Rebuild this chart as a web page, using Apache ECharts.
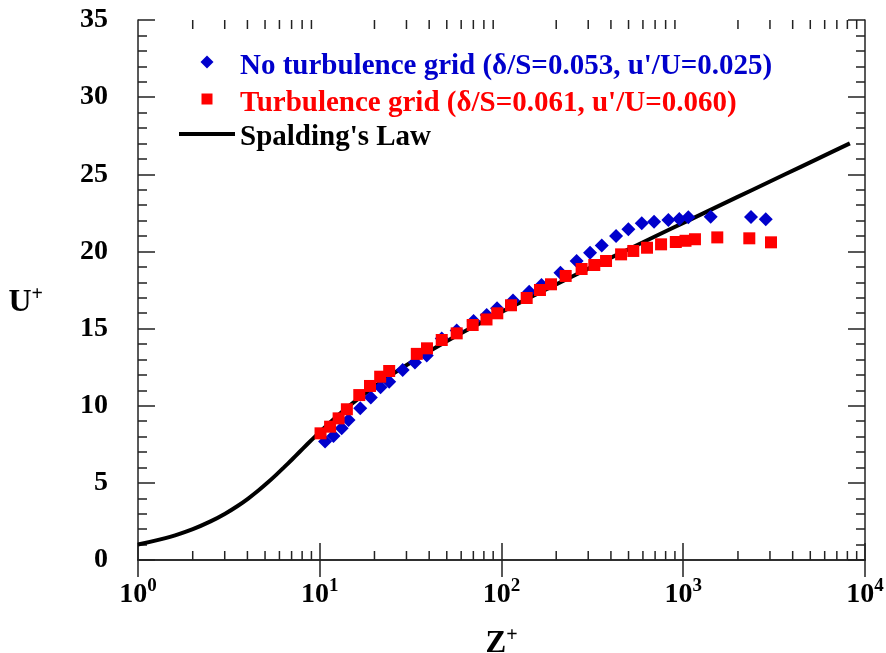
<!DOCTYPE html>
<html>
<head>
<meta charset="utf-8">
<script src="https://cdn.jsdelivr.net/npm/echarts@6/dist/echarts.min.js"></script>
<style>
  html, body { margin: 0; padding: 0; background: #fff; }
  #chart { width: 886px; height: 653px; }
</style>
</head>
<body>
<div id="chart"></div>
<script>
// Mean velocity profiles in wall units
const blueName = "No turbulence grid (\u03b4/S=0.053, u'/U=0.025)";
const redName = "Turbulence grid (\u03b4/S=0.061, u'/U=0.060)";
const lawName = "Spalding's Law";

const blueZ = [10.7, 11.9, 13.2, 14.4, 16.7, 19.1, 21.6, 24.1, 28.6, 33.4, 38.8, 46.9, 56.7, 70.2, 82.9, 94.5, 115.7, 142, 166, 211, 259, 307, 356, 427, 499, 591, 691, 828, 951, 1066, 1416, 2360, 2843];
const blueU = [7.68, 8.04, 8.54, 9.07, 9.83, 10.54, 11.19, 11.56, 12.31, 12.80, 13.25, 14.36, 14.87, 15.49, 15.88, 16.31, 16.82, 17.39, 17.82, 18.62, 19.38, 19.92, 20.38, 21.00, 21.43, 21.82, 21.92, 22.03, 22.10, 22.21, 22.25, 22.23, 22.08];

const redZ = [10.1, 11.4, 12.7, 14.1, 16.5, 18.9, 21.5, 24.1, 34.2, 38.9, 46.9, 56.7, 69.4, 82.7, 94.8, 112.8, 137.6, 162.8, 187.2, 225.5, 276, 324, 376, 455, 531, 632, 755, 910, 1029, 1160, 1539, 2309, 3039];
const redU = [8.21, 8.64, 9.18, 9.77, 10.69, 11.28, 11.88, 12.25, 13.36, 13.72, 14.26, 14.69, 15.23, 15.59, 15.99, 16.51, 16.98, 17.50, 17.87, 18.41, 18.86, 19.12, 19.38, 19.81, 20.03, 20.24, 20.46, 20.61, 20.69, 20.79, 20.91, 20.85, 20.59];

// Spalding's law curve (Z+, U+)
const lawZ = [1.0002, 1.501, 2.003, 2.507, 3.016, 3.531, 4.056, 4.595, 5.152, 5.735, 6.352, 7.015, 7.735, 8.530, 9.421, 10.432, 11.597, 12.952, 14.55, 18.72, 24.76, 33.68, 47.0, 66.99, 97.1, 142.6, 211.2, 314.9, 471.4, 707.5, 1063.9, 1601.5, 2412, 3634.5, 5477, 8255];
const lawU = [1, 1.5, 2, 2.5, 3, 3.5, 4, 4.5, 5, 5.5, 6, 6.5, 7, 7.5, 8, 8.5, 9, 9.5, 10, 11, 12, 13, 14, 15, 16, 17, 18, 19, 20, 21, 22, 23, 24, 25, 26, 27];

// Axis ticks and labels
const xMajorTicks = [1, 10, 100, 1000, 10000];
const xTickExponents = ['0', '1', '2', '3', '4'];
const xMinorTicks = [2, 3, 4, 5, 6, 7, 8, 9, 20, 30, 40, 50, 60, 70, 80, 90, 200, 300, 400, 500, 600, 700, 800, 900, 2000, 3000, 4000, 5000, 6000, 7000, 8000, 9000];

const FONT = "'Liberation Serif', 'Times New Roman', serif";
const AXIS_COLOR = '#222';
const BLUE = '#0000cc';
const RED = '#ff0000';

const pairs = (xs, ys) => xs.map((x, i) => [x, ys[i]]);

const chart = echarts.init(document.getElementById('chart'), null, { renderer: 'canvas' });

const axisLineStyle = { color: AXIS_COLOR, width: 1.5 };

const xAxisBase = {
  type: 'log',
  logBase: 10,
  min: 1,
  max: 10000,
  axisLine: { show: true, lineStyle: axisLineStyle },
  axisTick: { show: true, inside: true, length: 17, lineStyle: axisLineStyle },
  splitLine: { show: false },
  minorTick: { show: false },
  minorSplitLine: { show: false }
};

const yAxisBase = {
  type: 'value',
  min: 0,
  max: 35,
  interval: 5,
  axisLine: { show: true, lineStyle: axisLineStyle },
  axisTick: { show: true, inside: true, length: 17, lineStyle: axisLineStyle },
  minorTick: { show: true, splitNumber: 5, length: 9, lineStyle: axisLineStyle },
  splitLine: { show: false }
};

// legend entry text: the label sits slightly below its marker
const legendEntry = (left, top, w, h, icon, name, color, padLeft, padTop) => ({
  left: left, top: top, padding: 0,
  itemWidth: w, itemHeight: h,
  selectedMode: false,
  formatter: n => '{t|' + n + '}',
  textStyle: {
    rich: {
      t: {
        fontFamily: FONT, fontWeight: 'bold', fontSize: 29, lineHeight: 29,
        color: color, padding: [padTop, 0, 0, padLeft]
      }
    }
  },
  data: [{ name: name, icon: icon }]
});

const option = {
  animation: false,
  backgroundColor: '#fff',
  grid: { left: 138, right: 21, top: 20, bottom: 93, containLabel: false, outerBoundsMode: 'none' },
  legend: [
    legendEntry(200.5, 43, 13, 13, 'diamond', blueName, BLUE, 21.5, 9),
    legendEntry(201.5, 80, 11, 11, 'rect', redName, RED, 22.5, 9),
    legendEntry(179, 116.4, 56, 4, 'rect', lawName, '#000', 0, 6.4)
  ],
  xAxis: [
    Object.assign({}, xAxisBase, {
      position: 'bottom',
      name: '{m|Z}{s|+}',
      nameLocation: 'middle',
      nameGap: 66,
      nameTextStyle: {
        rich: {
          m: { fontFamily: FONT, fontWeight: 'bold', fontSize: 31, lineHeight: 36, color: '#000' },
          s: { fontFamily: FONT, fontWeight: 'bold', fontSize: 20, lineHeight: 16, verticalAlign: 'top', color: '#000' }
        }
      },
      axisLabel: {
        show: true,
        margin: 17,
        formatter: function (v) {
          const i = xMajorTicks.findIndex(t => Math.abs(t - v) / t < 1e-6);
          return '{b|10}{s|' + (i >= 0 ? xTickExponents[i] : '') + '}';
        },
        rich: {
          b: { fontFamily: FONT, fontWeight: 'bold', fontSize: 28, lineHeight: 36, color: '#000' },
          s: { fontFamily: FONT, fontWeight: 'bold', fontSize: 19, lineHeight: 16, verticalAlign: 'top', color: '#000' }
        }
      }
    }),
    Object.assign({}, xAxisBase, {
      position: 'top',
      axisLabel: { show: false }
    })
  ],
  yAxis: [
    Object.assign({}, yAxisBase, {
      position: 'left',
      name: '{m|U}{s|+}',
      nameLocation: 'middle',
      nameRotate: 0,
      nameGap: 95,
      nameTextStyle: {
        padding: [26, 0, 0, 0],
        rich: {
          m: { fontFamily: FONT, fontWeight: 'bold', fontSize: 32, lineHeight: 36, color: '#000' },
          s: { fontFamily: FONT, fontWeight: 'bold', fontSize: 20, lineHeight: 16, verticalAlign: 'top', color: '#000' }
        }
      },
      axisLabel: {
        show: true,
        margin: 30,
        fontFamily: FONT,
        fontWeight: 'bold',
        fontSize: 28,
        color: '#000'
      }
    }),
    Object.assign({}, yAxisBase, {
      position: 'right',
      axisLabel: { show: false }
    })
  ],
  series: [
    {
      // minor decade ticks on the bottom and top log axes
      type: 'custom',
      name: 'minorTicks',
      xAxisIndex: 0,
      yAxisIndex: 0,
      silent: true,
      z: 1,
      encode: { x: 0, y: 1 },
      data: xMinorTicks.map(v => [v, 1]),
      renderItem: function (params, api) {
        const x = api.coord([api.value(0), 1])[0];
        const cs = params.coordSys;
        const style = { stroke: AXIS_COLOR, lineWidth: 1.5 };
        return {
          type: 'group',
          children: [
            { type: 'line', shape: { x1: x, y1: cs.y + cs.height, x2: x, y2: cs.y + cs.height - 9 }, style: style },
            { type: 'line', shape: { x1: x, y1: cs.y, x2: x, y2: cs.y + 9 }, style: style }
          ]
        };
      }
    },
    {
      name: lawName,
      type: 'line',
      xAxisIndex: 0,
      yAxisIndex: 0,
      data: pairs(lawZ, lawU),
      symbol: 'none',
      smooth: 0.3,
      lineStyle: { color: '#000', width: 4 },
      itemStyle: { color: '#000' },
      z: 2
    },
    {
      name: blueName,
      type: 'scatter',
      xAxisIndex: 0,
      yAxisIndex: 0,
      data: pairs(blueZ, blueU),
      symbol: 'diamond',
      symbolSize: 14,
      itemStyle: { color: BLUE, opacity: 1 },
      z: 3
    },
    {
      name: redName,
      type: 'scatter',
      xAxisIndex: 0,
      yAxisIndex: 0,
      data: pairs(redZ, redU),
      symbol: 'rect',
      symbolSize: 12,
      itemStyle: { color: RED, opacity: 1 },
      z: 4
    }
  ]
};

chart.setOption(option);
</script>
</body>
</html>
